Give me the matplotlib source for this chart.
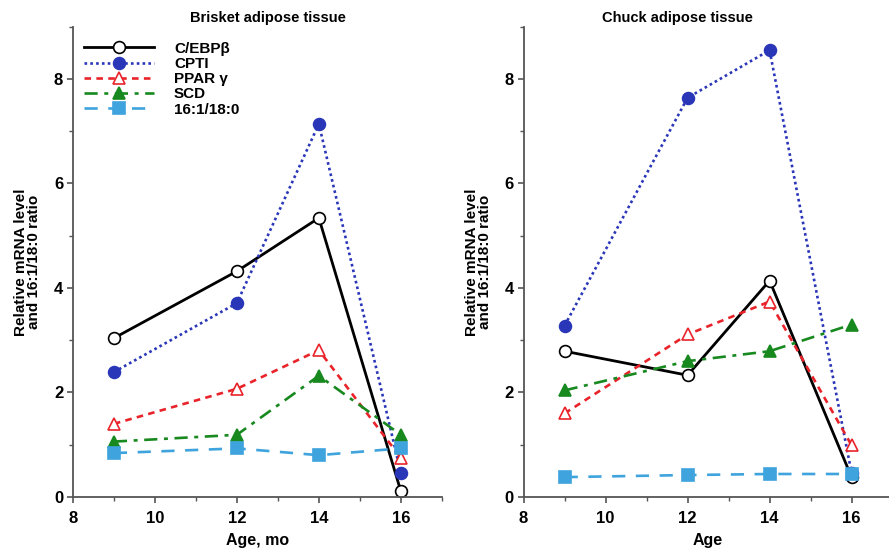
import matplotlib.pyplot as plt
from matplotlib.ticker import MultipleLocator

plt.rcParams['font.family'] = ['Liberation Sans', 'DejaVu Sans']
plt.rcParams['font.weight'] = 'bold'

age = [9, 12, 14, 16]

# brisket adipose tissue
brisket_cebpb = [3.04, 4.32, 5.34, 0.11]
brisket_cpti = [2.39, 3.71, 7.14, 0.46]
brisket_ppar = [1.40, 2.07, 2.81, 0.75]
brisket_scd = [1.06, 1.19, 2.32, 1.19]
brisket_ratio = [0.84, 0.93, 0.80, 0.93]

# chuck adipose tissue
chuck_cebpb = [2.79, 2.33, 4.14, 0.38]
chuck_cpti = [3.28, 7.64, 8.55, 0.46]
chuck_ppar = [1.60, 3.11, 3.74, 0.99]
chuck_scd = [2.04, 2.60, 2.79, 3.30]
chuck_ratio = [0.38, 0.42, 0.44, 0.44]

labels = ['C/EBPβ', 'CPTI', 'PPAR γ', 'SCD', '16:1/18:0']

# color, linestyle, marker, marker face
styles = [
    ('black', '-', 'o', 'white'),
    ('#2a36b8', (0, (1, 1.2)), 'o', '#2a36b8'),
    ('#e8242a', (0, (2.5, 2)), '^', 'white'),
    ('#17891f', (0, (5, 2.5, 1.5, 2.5)), '^', '#17891f'),
    ('#3fa3dd', (0, (5, 4)), 's', '#3fa3dd'),
]

fig = plt.figure(figsize=(8.89, 5.5), dpi=100)
ax1 = fig.add_axes([0.082, 0.0964, 0.415, 0.855])
ax2 = fig.add_axes([0.589, 0.0964, 0.415, 0.855])

panels = [
    (ax1, [brisket_cebpb, brisket_cpti, brisket_ppar, brisket_scd, brisket_ratio],
     'Brisket adipose tissue', 12.75, 'Age, mo'),
    (ax2, [chuck_cebpb, chuck_cpti, chuck_ppar, chuck_scd, chuck_ratio],
     'Chuck adipose tissue', 11.75, 'Age'),
]

for ax, series, title, tx, xlab in panels:
    for vals, lab, (c, ls, m, fc) in zip(series, labels, styles):
        ax.plot(age, vals, color=c, linestyle=ls, linewidth=2 if ls == '-' else 1.9,
                marker=m, markersize=8.5, markerfacecolor=fc, markeredgecolor=c,
                markeredgewidth=1.2, label=lab)
    ax.set_xlim(8, 17)
    ax.set_ylim(0, 9)
    ax.xaxis.set_major_locator(MultipleLocator(2))
    ax.xaxis.set_minor_locator(MultipleLocator(1))
    ax.yaxis.set_major_locator(MultipleLocator(2))
    ax.yaxis.set_minor_locator(MultipleLocator(1))
    ax.spines['top'].set_visible(False)
    ax.spines['right'].set_visible(False)
    for s in ('left', 'bottom'):
        ax.spines[s].set_color('#555555')
        ax.spines[s].set_linewidth(1.3)
    ax.tick_params(which='both', direction='out', color='#555555', labelsize=12)
    ax.tick_params(axis='x', pad=6)
    ax.tick_params(axis='y', pad=3)
    ax.tick_params(which='major', length=4, width=1.2)
    ax.tick_params(which='minor', length=3, width=1.0)
    ax.set_xlabel(xlab, fontsize=11.5, fontweight='bold', labelpad=5)
    ax.set_ylabel('Relative mRNA level\nand 16:1/18:0 ratio', fontsize=11,
                  fontweight='bold', labelpad=9, linespacing=0.95)
    ax.text(tx, 9.17, title, ha='center', va='center', fontsize=10.5, fontweight='bold')
    for lbl in ax.get_xticklabels() + ax.get_yticklabels():
        lbl.set_fontweight('bold')

ax1.legend(loc='upper left', bbox_to_anchor=(0.03, 0.968), frameon=False,
           handlelength=4.6, handletextpad=1.3, labelspacing=0.08,
           borderpad=0, borderaxespad=0, prop={'weight': 'bold', 'size': 11})

fig.savefig('out.png', dpi=100)
